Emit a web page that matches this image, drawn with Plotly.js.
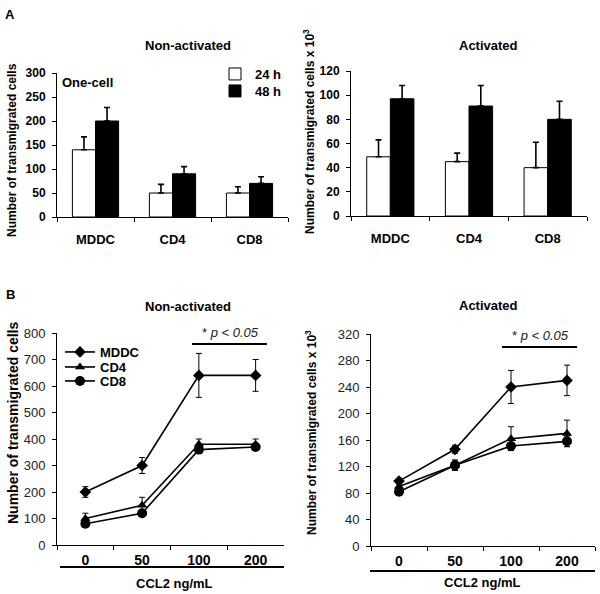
<!DOCTYPE html>
<html>
<head>
<meta charset="utf-8">
<script src="https://cdn.plot.ly/plotly-3.0.1.min.js"></script>
<style>html,body{margin:0;padding:0;background:#fff;}#chart{width:600px;height:594px;}</style>
</head>
<body>
<div id="chart"></div>
<script>
// ---- Panel A data (bars) ----
const cellTypes = ['MDDC', 'CD4', 'CD8'];
const nonAct24h = [140, 50, 50];
const nonAct24hErr = [27, 18, 13];
const nonAct48h = [200, 90, 70];
const nonAct48hErr = [28, 15, 14];
const act24h = [49, 45, 40];
const act24hErr = [14, 7, 21];
const act48h = [97, 91, 80];
const act48hErr = [11, 17, 15];
const noLowerErr = [0, 0, 0];

// ---- Panel B data (dose response) ----
const doses = ['0', '50', '100', '200'];
const nonActMDDC = [200, 300, 640, 640];
const nonActMDDCErr = [20, 30, 83, 60];
const nonActCD4 = [100, 150, 380, 380];
const nonActCD4Err = [20, 30, 20, 20];
const nonActCD8 = [80, 120, 360, 370];
const nonActCD8Err = [10, 10, 10, 10];
const actMDDC = [98, 146, 240, 250];
const actMDDCErr = [4, 6, 25, 23];
const actCD4 = [90, 122, 162, 170];
const actCD4Err = [5, 8, 18, 20];
const actCD8 = [82, 122, 151, 158];
const actCD8Err = [4, 6, 5, 8];

const FONT = 'Liberation Sans, Arial, sans-serif';
const W = 600, H = 594;
const px = v => v / W;
const py = v => 1 - v / H;

function barTrace(x, y, err, color, name, xa, ya, show, leg) {
  return {
    type: 'bar', x: x, y: y, name: name, xaxis: xa, yaxis: ya,
    showlegend: show, legend: leg,
    marker: {color: color, line: {color: '#000', width: 1}},
    error_y: {type: 'data', symmetric: false, array: err, arrayminus: noLowerErr,
              color: '#000', thickness: 1.6, width: 3}
  };
}

const markerFor = {MDDC: 'diamond', CD4: 'triangle-up', CD8: 'circle'};
const sizeFor = {MDDC: 9, CD4: 9, CD8: 10};
function lineTrace(y, err, name, xa, ya, show, leg) {
  return {
    type: 'scatter', mode: 'lines+markers', x: doses, y: y, name: name,
    xaxis: xa, yaxis: ya, showlegend: show, legend: leg,
    line: {color: '#000', width: 1.6},
    marker: {symbol: markerFor[name], size: sizeFor[name], color: '#000'},
    error_y: {type: 'data', array: err, color: '#000', thickness: 1, width: 3}
  };
}

const data = [
  barTrace(cellTypes, nonAct24h, nonAct24hErr, '#fff', '24 h', 'x', 'y', true, 'legend'),
  barTrace(cellTypes, nonAct48h, nonAct48hErr, '#000', '48 h', 'x', 'y', true, 'legend5'),
  barTrace(cellTypes, act24h, act24hErr, '#fff', '24 h', 'x2', 'y2', false, 'legend'),
  barTrace(cellTypes, act48h, act48hErr, '#000', '48 h', 'x2', 'y2', false, 'legend5'),
  lineTrace(nonActMDDC, nonActMDDCErr, 'MDDC', 'x3', 'y3', true, 'legend2'),
  lineTrace(nonActCD4, nonActCD4Err, 'CD4', 'x3', 'y3', true, 'legend3'),
  lineTrace(nonActCD8, nonActCD8Err, 'CD8', 'x3', 'y3', true, 'legend4'),
  lineTrace(actMDDC, actMDDCErr, 'MDDC', 'x4', 'y4', false, 'legend2'),
  lineTrace(actCD4, actCD4Err, 'CD4', 'x4', 'y4', false, 'legend3'),
  lineTrace(actCD8, actCD8Err, 'CD8', 'x4', 'y4', false, 'legend4')
];

function xAx(domain, anchor, n, fontSize, standoff) {
  return {
    domain: domain, anchor: anchor, type: 'category', range: [-0.5, n - 0.5],
    showline: true, linecolor: '#000', linewidth: 1, mirror: false,
    ticks: 'outside', tickson: 'boundaries', ticklen: 4, tickcolor: '#000', tickwidth: 1,
    showgrid: false, zeroline: false, fixedrange: true, ticklabelstandoff: standoff,
    tickfont: {family: FONT, size: fontSize, color: '#000', weight: 'bold'}
  };
}
function yAx(domain, anchor, max, dtick, font, standoff) {
  return {
    domain: domain, anchor: anchor, range: [0, max], dtick: dtick, tick0: 0,
    showline: true, linecolor: '#000', linewidth: 1,
    ticks: 'outside', ticklen: 4, tickcolor: '#000', tickwidth: 1,
    showgrid: false, zeroline: false, fixedrange: true, ticklabelstandoff: standoff,
    tickfont: font
  };
}

const boldY = {family: FONT, size: 12, color: '#000', weight: 'bold'};
const plainY = {family: FONT, size: 13, color: '#222'};

function ann(text, x, y, size, opts) {
  return Object.assign({
    text: text, x: px(x), y: py(y), xref: 'paper', yref: 'paper',
    showarrow: false, xanchor: 'center', yanchor: 'middle',
    font: {family: FONT, size: size, color: '#000', weight: 'bold'}
  }, opts || {});
}

const annotations = [
  ann('A', 10, 14, 13),
  ann('B', 10, 294, 13),
  ann('Non-activated', 188, 45, 13),
  ann('Activated', 488, 45, 13),
  ann('Non-activated', 188, 306, 13),
  ann('Activated', 488, 305, 13),
  ann('One-cell', 60, 82, 13, {xanchor: 'left'}),
  ann('Number of transmigrated cells', 12, 150, 12, {textangle: -90}),
  ann('Number of transmigrated cells x 10<sup>3</sup>', 309, 132, 12, {textangle: -90}),
  ann('Number of transmigrated cells', 13, 423, 14, {textangle: -90}),
  ann('Number of transmigrated cells x 10<sup>3</sup>', 311, 433, 12, {textangle: -90}),
  ann('CCL2 ng/mL', 174, 583, 13),
  ann('CCL2 ng/mL', 482, 582, 13),
  ann('* <i>p &lt; 0.05</i>', 230, 333, 13, {font: {family: FONT, size: 13, color: '#222'}}),
  ann('* <i>p &lt; 0.05</i>', 540, 335, 13, {font: {family: FONT, size: 13, color: '#222'}})
];

function hline(x0, x1, y, w) {
  return {type: 'line', xref: 'paper', yref: 'paper', x0: px(x0), x1: px(x1), y0: py(y), y1: py(y),
          line: {color: '#000', width: w}};
}
const shapes = [
  hline(60, 284, 567, 2),
  hline(370, 595, 571, 2),
  hline(192, 267, 344, 2),
  hline(502, 577, 347, 2)
];

function oneLegend(x, y) {
  return {x: px(x), y: py(y), xanchor: 'left', yanchor: 'middle', bgcolor: 'rgba(0,0,0,0)',
          borderwidth: 0, itemwidth: 30, tracegroupgap: 0,
          font: {family: FONT, size: 13, color: '#000', weight: 'bold'}};
}

const layout = {
  width: W, height: H, autosize: false,
  margin: {l: 0, r: 0, t: 0, b: 0},
  paper_bgcolor: '#fff', plot_bgcolor: '#fff',
  bargap: 0.4, bargroupgap: 0, barmode: 'group',
  xaxis: xAx([px(57), px(288)], 'y', 3, 13, 10),
  yaxis: yAx([1 - 217 / H, 1 - 73 / H], 'x', 300, 50, boldY, 4),
  xaxis2: xAx([px(351), px(587)], 'y2', 3, 13, 10),
  yaxis2: yAx([1 - 216 / H, 1 - 71 / H], 'x2', 120, 20, boldY, 4),
  xaxis3: xAx([px(57), px(284)], 'y3', 4, 14, 2),
  yaxis3: yAx([1 - 545 / H, 1 - 333 / H], 'x3', 800, 100, plainY, 4),
  xaxis4: xAx([px(371), px(595)], 'y4', 4, 14, 2),
  yaxis4: yAx([1 - 546 / H, 1 - 334 / H], 'x4', 320, 40, plainY, 4),
  legend: oneLegend(215, 74),
  legend5: oneLegend(215, 91),
  legend2: oneLegend(60, 352),
  legend3: oneLegend(60, 367),
  legend4: oneLegend(60, 381),
  annotations: annotations,
  shapes: shapes,
  showlegend: true
};

Plotly.newPlot('chart', data, layout, {staticPlot: true, displayModeBar: false});
</script>
</body>
</html>
